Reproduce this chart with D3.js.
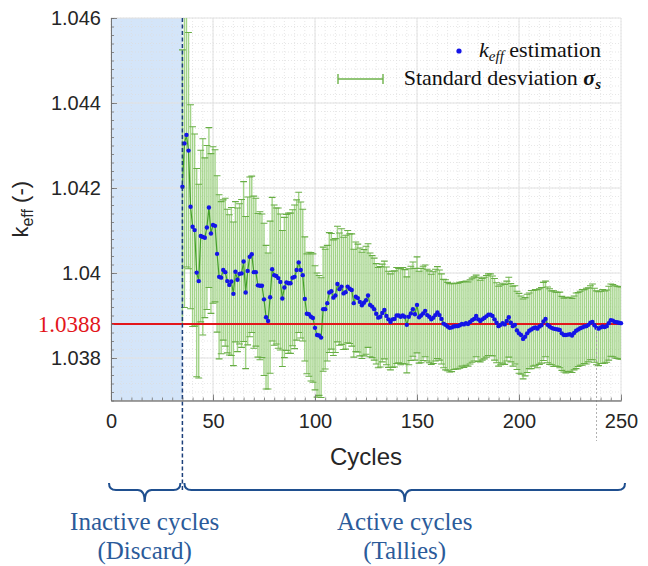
<!DOCTYPE html>
<html>
<head>
<meta charset="utf-8">
<script src="https://cdn.jsdelivr.net/npm/d3@7"></script>
<style>
  body { margin: 0; background: #fff; }
  svg { display: block; }
</style>
</head>
<body>
<svg id="chart" width="648" height="566"></svg>
<script>
// ---- Data: cumulative k_eff estimate and its standard deviation per active cycle ----
const firstActiveCycle = 35;
const keffValues = [
  1.04203, 1.04305, 1.04325, 1.04288, 1.04156, 1.04109, 1.04101, 1.04001, 1.03981, 1.04087,
  1.04085, 1.04083, 1.04107, 1.04154, 1.04093, 1.04113, 1.04111, 1.04045, 1.03991, 1.03989,
  1.04007, 1.04002, 1.03981, 1.03972, 1.03980, 1.03951, 1.04003, 1.03984, 1.03998, 1.03999,
  1.04027, 1.03954, 1.04005, 1.04038, 1.04044, 1.04002, 1.04002, 1.03971, 1.03970, 1.03970,
  1.03938, 1.03896, 1.03887, 1.03943, 1.04009, 1.03995, 1.03993, 1.03988, 1.03979, 1.03940,
  1.03966, 1.03978, 1.03976, 1.03976, 1.03989, 1.03991, 1.04007, 1.04025, 1.04007, 1.03995,
  1.03939, 1.03904, 1.03903, 1.03897, 1.03894, 1.03871, 1.03854, 1.03853, 1.03848, 1.03915,
  1.03915, 1.03929, 1.03954, 1.03957, 1.03942, 1.03947, 1.03974, 1.03962, 1.03968, 1.03952,
  1.03955, 1.03968, 1.03963, 1.03960, 1.03929, 1.03944, 1.03941, 1.03932, 1.03924, 1.03930,
  1.03936, 1.03947, 1.03925, 1.03921, 1.03915, 1.03904, 1.03895, 1.03897, 1.03906, 1.03913,
  1.03899, 1.03891, 1.03885, 1.03891, 1.03892, 1.03900, 1.03900, 1.03897, 1.03900, 1.03897,
  1.03878, 1.03897, 1.03905, 1.03915, 1.03903, 1.03925, 1.03896, 1.03900, 1.03905, 1.03911,
  1.03901, 1.03897, 1.03891, 1.03895, 1.03901, 1.03907, 1.03901, 1.03892, 1.03881, 1.03878,
  1.03874, 1.03871, 1.03872, 1.03874, 1.03875, 1.03875, 1.03877, 1.03880, 1.03879, 1.03882,
  1.03880, 1.03885, 1.03889, 1.03892, 1.03899, 1.03891, 1.03887, 1.03891, 1.03894, 1.03898,
  1.03902, 1.03902, 1.03899, 1.03891, 1.03883, 1.03875, 1.03878, 1.03882, 1.03879, 1.03887,
  1.03896, 1.03883, 1.03875, 1.03878, 1.03865, 1.03858, 1.03854, 1.03845, 1.03850, 1.03858,
  1.03864, 1.03867, 1.03870, 1.03872, 1.03869, 1.03874, 1.03877, 1.03886, 1.03892, 1.03878,
  1.03874, 1.03871, 1.03869, 1.03868, 1.03867, 1.03866, 1.03858, 1.03854, 1.03854, 1.03855,
  1.03856, 1.03853, 1.03859, 1.03864, 1.03867, 1.03870, 1.03872, 1.03874, 1.03875, 1.03878,
  1.03883, 1.03885, 1.03877, 1.03871, 1.03869, 1.03872, 1.03874, 1.03873, 1.03875, 1.03882,
  1.03889, 1.03888, 1.03885, 1.03884, 1.03883, 1.03882
];
const sigmaValues = [
  0.00322, 0.00386, 0.00311, 0.00278, 0.00240, 0.00235, 0.00226, 0.00245, 0.00228, 0.00202,
  0.00231, 0.00188, 0.00193, 0.00188, 0.00188, 0.00184, 0.00179, 0.00184, 0.00193, 0.00179,
  0.00165, 0.00174, 0.00169, 0.00165, 0.00174, 0.00169, 0.00165, 0.00169, 0.00165, 0.00174,
  0.00188, 0.00179, 0.00174, 0.00188, 0.00184, 0.00179, 0.00174, 0.00169, 0.00174, 0.00169,
  0.00179, 0.00169, 0.00160, 0.00179, 0.00169, 0.00165, 0.00160, 0.00165, 0.00160, 0.00160,
  0.00165, 0.00160, 0.00165, 0.00165, 0.00160, 0.00169, 0.00165, 0.00165, 0.00160, 0.00155,
  0.00146, 0.00141, 0.00146, 0.00151, 0.00151, 0.00146, 0.00146, 0.00141, 0.00141, 0.00146,
  0.00141, 0.00136, 0.00141, 0.00136, 0.00136, 0.00134, 0.00136, 0.00132, 0.00136, 0.00132,
  0.00134, 0.00132, 0.00129, 0.00132, 0.00127, 0.00129, 0.00127, 0.00127, 0.00125, 0.00125,
  0.00127, 0.00122, 0.00122, 0.00120, 0.00120, 0.00118, 0.00118, 0.00118, 0.00115, 0.00115,
  0.00115, 0.00113, 0.00113, 0.00113, 0.00113, 0.00113, 0.00111, 0.00113, 0.00113, 0.00111,
  0.00113, 0.00113, 0.00111, 0.00111, 0.00108, 0.00113, 0.00108, 0.00111, 0.00111, 0.00108,
  0.00108, 0.00108, 0.00106, 0.00108, 0.00108, 0.00108, 0.00106, 0.00106, 0.00104, 0.00106,
  0.00104, 0.00104, 0.00104, 0.00101, 0.00101, 0.00101, 0.00101, 0.00099, 0.00101, 0.00099,
  0.00099, 0.00099, 0.00099, 0.00099, 0.00096, 0.00099, 0.00096, 0.00096, 0.00096, 0.00096,
  0.00096, 0.00096, 0.00094, 0.00096, 0.00094, 0.00094, 0.00094, 0.00094, 0.00094, 0.00094,
  0.00094, 0.00092, 0.00094, 0.00092, 0.00092, 0.00094, 0.00092, 0.00094, 0.00092, 0.00092,
  0.00089, 0.00092, 0.00089, 0.00089, 0.00092, 0.00089, 0.00089, 0.00092, 0.00089, 0.00089,
  0.00089, 0.00087, 0.00089, 0.00087, 0.00087, 0.00089, 0.00087, 0.00087, 0.00089, 0.00087,
  0.00087, 0.00087, 0.00087, 0.00089, 0.00087, 0.00087, 0.00089, 0.00087, 0.00089, 0.00087,
  0.00087, 0.00089, 0.00087, 0.00087, 0.00087, 0.00085, 0.00087, 0.00085, 0.00085, 0.00087,
  0.00085, 0.00085, 0.00085, 0.00085, 0.00085, 0.00085
];
const cycles = keffValues.map((_, i) => firstActiveCycle + i);

const xTickValues = [0, 50, 100, 150, 200, 250];
const xTickLabels = ["0", "50", "100", "150", "200", "250"];
const yTickValues = [1.038, 1.04, 1.042, 1.044, 1.046];
const yTickLabels = ["1.038", "1.04", "1.042", "1.044", "1.046"];
const referenceKeff = 1.0388;
const referenceLabel = "1.0388";
const inactiveEnd = 35;
const lastCycle = 250;
const markerCycle = 238;

// ---- Layout ----
const svg = d3.select("#chart");
const plot = { left: 111, right: 621, top: 18, bottom: 400.5 };
const x = d3.scaleLinear().domain([0, lastCycle]).range([plot.left, plot.right]);
const y = d3.scaleLinear().domain([1.037, 1.046]).range([plot.bottom, plot.top]);

const sansFont = "'Liberation Sans', Arial, Helvetica, sans-serif";
const serifFont = "'Liberation Serif', 'Times New Roman', serif";
const axisColor = "#262626";

svg.append("rect").attr("width", 648).attr("height", 566).attr("fill", "#fff");

svg.append("defs").append("clipPath").attr("id", "plotClip")
  .append("rect")
  .attr("x", plot.left).attr("y", plot.top)
  .attr("width", plot.right - plot.left).attr("height", plot.bottom - plot.top);

// Discarded (inactive) cycles shading
svg.append("rect")
  .attr("x", x(0)).attr("y", plot.top)
  .attr("width", x(inactiveEnd) - x(0)).attr("height", plot.bottom - plot.top)
  .attr("fill", "#d4e5f9");

// ---- Grid ----
const grid = svg.append("g");
grid.selectAll("line.xminor").data(x.ticks(50)).join("line")
  .attr("x1", d => x(d)).attr("x2", d => x(d))
  .attr("y1", plot.top).attr("y2", plot.bottom)
  .attr("stroke", "#dcdcdc").attr("stroke-width", 0.7).attr("stroke-dasharray", "1,2");
grid.selectAll("line.yminor").data(y.ticks(45)).join("line")
  .attr("x1", plot.left).attr("x2", plot.right)
  .attr("y1", d => y(d)).attr("y2", d => y(d))
  .attr("stroke", "#dcdcdc").attr("stroke-width", 0.7).attr("stroke-dasharray", "1,2");
grid.selectAll("line.xmajor").data(xTickValues).join("line")
  .attr("x1", d => x(d)).attr("x2", d => x(d))
  .attr("y1", plot.top).attr("y2", plot.bottom)
  .attr("stroke", "#e2e2e2").attr("stroke-width", 1);
grid.selectAll("line.ymajor").data(yTickValues.concat([1.037])).join("line")
  .attr("x1", plot.left).attr("x2", plot.right)
  .attr("y1", d => y(d)).attr("y2", d => y(d))
  .attr("stroke", "#e2e2e2").attr("stroke-width", 1);

// ---- Error bars ----
const bars = svg.append("g").attr("clip-path", "url(#plotClip)");
const capHalf = 3.4;
bars.selectAll("line.bar").data(cycles).join("line")
  .attr("x1", (d) => x(d)).attr("x2", (d) => x(d))
  .attr("y1", (d, i) => y(keffValues[i] - sigmaValues[i]))
  .attr("y2", (d, i) => y(keffValues[i] + sigmaValues[i]))
  .attr("stroke", "#8cc96b").attr("stroke-opacity", 0.8).attr("stroke-width", 1.4);
bars.selectAll("line.capTop").data(cycles).join("line")
  .attr("x1", d => x(d) - capHalf).attr("x2", d => x(d) + capHalf)
  .attr("y1", (d, i) => y(keffValues[i] + sigmaValues[i]))
  .attr("y2", (d, i) => y(keffValues[i] + sigmaValues[i]))
  .attr("stroke", "#68ae45").attr("stroke-width", 1.1);
bars.selectAll("line.capBottom").data(cycles).join("line")
  .attr("x1", d => x(d) - capHalf).attr("x2", d => x(d) + capHalf)
  .attr("y1", (d, i) => y(keffValues[i] - sigmaValues[i]))
  .attr("y2", (d, i) => y(keffValues[i] - sigmaValues[i]))
  .attr("stroke", "#68ae45").attr("stroke-width", 1.1);

// Line joining the estimates
const meanLine = d3.line().x(d => x(d[0])).y(d => y(d[1]));
svg.append("path")
  .datum(cycles.map((c, i) => [c, keffValues[i]]))
  .attr("d", meanLine)
  .attr("fill", "none").attr("stroke", "#45a12a").attr("stroke-width", 1.2);

// Reference value line
svg.append("line")
  .attr("x1", plot.left).attr("x2", plot.right)
  .attr("y1", y(referenceKeff)).attr("y2", y(referenceKeff))
  .attr("stroke", "#e3161b").attr("stroke-width", 2.2);

// Estimates
svg.append("g").selectAll("circle").data(cycles).join("circle")
  .attr("cx", d => x(d))
  .attr("cy", (d, i) => y(keffValues[i]))
  .attr("r", 2.2)
  .attr("fill", "#1414e8");

// Boundary between inactive and active cycles
svg.append("line")
  .attr("x1", x(inactiveEnd)).attr("x2", x(inactiveEnd))
  .attr("y1", plot.top).attr("y2", 491)
  .attr("stroke", "#1c3f7a").attr("stroke-width", 1.5).attr("stroke-dasharray", "4,2.5");

// Thin marker line near the end of the run
svg.append("line")
  .attr("x1", x(markerCycle)).attr("x2", x(markerCycle))
  .attr("y1", y(referenceKeff) + 4).attr("y2", 441)
  .attr("stroke", "#9a9a9a").attr("stroke-width", 0.8).attr("stroke-dasharray", "2,2");

// ---- Axes (ticks drawn inward) ----
const xAxisMinor = d3.axisBottom(x).tickValues(x.ticks(50)).tickSize(-3).tickSizeOuter(0).tickFormat("");
const xAxisMajor = d3.axisBottom(x).tickValues(xTickValues).tickSize(-6).tickSizeOuter(0)
  .tickPadding(13).tickFormat((d, i) => xTickLabels[i]);
const yAxisMinor = d3.axisLeft(y).tickValues(y.ticks(45)).tickSize(-3).tickSizeOuter(0).tickFormat("");
const yAxisMajor = d3.axisLeft(y).tickValues(yTickValues).tickSize(-6).tickSizeOuter(0)
  .tickPadding(10).tickFormat((d, i) => yTickLabels[i]);

function styleAxis(g) {
  g.selectAll("path, line").attr("stroke", "#707070").attr("stroke-width", 0.8);
  g.selectAll("text").attr("fill", axisColor).attr("font-family", sansFont).attr("font-size", 20);
}
svg.append("g").attr("transform", `translate(0,${plot.bottom})`).call(xAxisMinor).call(styleAxis);
svg.append("g").attr("transform", `translate(0,${plot.bottom})`).call(xAxisMajor).call(styleAxis);
svg.append("g").attr("transform", `translate(${plot.left},0)`).call(yAxisMinor).call(styleAxis);
svg.append("g").attr("transform", `translate(${plot.left},0)`).call(yAxisMajor).call(styleAxis);

// Reference value label
svg.append("text")
  .attr("x", plot.left - 10).attr("y", y(referenceKeff))
  .attr("dy", "0.34em").attr("text-anchor", "end")
  .attr("font-family", serifFont).attr("font-size", 23)
  .attr("fill", "#e3161b")
  .text(referenceLabel);

// Axis titles
svg.append("text")
  .attr("x", (plot.left + plot.right) / 2).attr("y", 465)
  .attr("text-anchor", "middle")
  .attr("font-family", sansFont).attr("font-size", 24).attr("fill", axisColor)
  .text("Cycles");

const yTitle = svg.append("text")
  .attr("transform", `translate(28,${(plot.top + plot.bottom) / 2}) rotate(-90)`)
  .attr("text-anchor", "middle")
  .attr("font-family", sansFont).attr("font-size", 22).attr("fill", axisColor);
yTitle.append("tspan").text("k");
yTitle.append("tspan").attr("font-size", 16).attr("dy", 5).text("eff");
yTitle.append("tspan").attr("dy", -5).text(" (-)");

// ---- Legend ----
const legendRight = plot.right - 20;
const leg1 = svg.append("text")
  .attr("x", legendRight).attr("y", 57).attr("text-anchor", "end")
  .attr("font-family", serifFont).attr("font-size", 22).attr("fill", "#111");
leg1.append("tspan").attr("font-style", "italic").text("k");
leg1.append("tspan").attr("font-style", "italic").attr("font-size", 15).attr("dy", 4).text("eff");
leg1.append("tspan").attr("dy", -4).text(" estimation");
svg.append("circle").attr("cx", legendRight - 142).attr("cy", 51).attr("r", 2.6).attr("fill", "#1414e8");

const leg2 = svg.append("text")
  .attr("x", legendRight).attr("y", 85).attr("text-anchor", "end")
  .attr("font-family", serifFont).attr("font-size", 22).attr("fill", "#111");
leg2.append("tspan").text("Standard desviation ");
leg2.append("tspan").attr("font-style", "italic").attr("font-weight", "bold").text("σ");
leg2.append("tspan").attr("font-style", "italic").attr("font-weight", "bold")
  .attr("font-size", 15).attr("dy", 4).text("s");

const lg = svg.append("g").attr("stroke", "#6db24a").attr("stroke-width", 1.4);
const lgX1 = legendRight - 263, lgX2 = legendRight - 218, lgY = 79;
lg.append("line").attr("x1", lgX1).attr("x2", lgX2).attr("y1", lgY).attr("y2", lgY);
lg.append("line").attr("x1", lgX1).attr("x2", lgX1).attr("y1", lgY - 5).attr("y2", lgY + 5);
lg.append("line").attr("x1", lgX2).attr("x2", lgX2).attr("y1", lgY - 5).attr("y2", lgY + 5);

// ---- Cycle phase braces ----
function bracePath(x1, x2, yArm, rise, drop) {
  const mid = (x1 + x2) / 2;
  const r = 7;
  return `M${x1},${yArm - rise} Q${x1},${yArm} ${x1 + r},${yArm}` +
         ` L${mid - r},${yArm} Q${mid},${yArm} ${mid},${yArm + drop}` +
         ` Q${mid},${yArm} ${mid + r},${yArm}` +
         ` L${x2 - r},${yArm} Q${x2},${yArm} ${x2},${yArm - rise}`;
}
const braceColor = "#1f4f8f";
const textColor = "#2b5b9a";
const braces = [
  { x1: x(0) - 2, x2: x(inactiveEnd) - 2, lines: ["Inactive cycles", "(Discard)"] },
  { x1: x(inactiveEnd) + 2, x2: x(lastCycle) + 4, lines: ["Active cycles", "(Tallies)"] }
];
braces.forEach(b => {
  svg.append("path").attr("d", bracePath(b.x1, b.x2, 490, 7, 12))
    .attr("fill", "none").attr("stroke", braceColor).attr("stroke-width", 2);
  b.lines.forEach((t, i) => {
    svg.append("text")
      .attr("x", (b.x1 + b.x2) / 2).attr("y", 530 + i * 29)
      .attr("text-anchor", "middle")
      .attr("font-family", serifFont).attr("font-size", 25).attr("fill", textColor)
      .text(t);
  });
});
</script>
</body>
</html>
